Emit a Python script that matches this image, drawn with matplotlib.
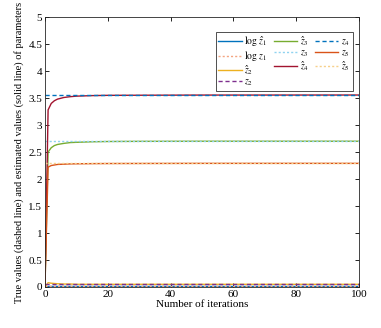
"""
Parameter estimates vs. true values over iterations
"""
import numpy as np
import matplotlib
matplotlib.use("Agg")
import matplotlib.pyplot as plt

#------------------------------------------------------------------------------
# Data
#------------------------------------------------------------------------------

iters = [0, 1, 2, 3, 4, 6, 8, 10, 15, 20, 30, 50, 100]

est_logz1 = [0, 0.01, 0.01, 0.01, 0.01, 0.01, 0.01, 0.01, 0.01, 0.01, 0.01, 0.01, 0.01]
est_z2 = [0, 0.08, 0.07, 0.065, 0.06, 0.055, 0.055, 0.05, 0.05, 0.05, 0.05, 0.05, 0.05]
est_z3 = [0, 2.50, 2.58, 2.62, 2.64, 2.66, 2.675, 2.68, 2.69, 2.695, 2.698, 2.70, 2.70]
est_z4 = [0, 3.28, 3.40, 3.45, 3.48, 3.51, 3.525, 3.535, 3.545, 3.55, 3.552, 3.555, 3.556]
est_z5 = [0, 2.22, 2.25, 2.26, 2.27, 2.275, 2.28, 2.282, 2.285, 2.287, 2.288, 2.29, 2.29]

true_logz1 = 0.01
true_z2 = 0.05
true_z3 = 2.70
true_z4 = 3.56
true_z5 = 2.29

#------------------------------------------------------------------------------
# Plot
#------------------------------------------------------------------------------

plt.rcParams['font.family'] = ['Liberation Serif', 'DejaVu Serif']
plt.rcParams['mathtext.fontset'] = 'stix'
plt.rcParams['font.size'] = 8

fig = plt.figure(figsize=(3.81, 3.28), dpi=100)
ax = fig.add_axes([0.118, 0.125, 0.824, 0.823])

x_end = [iters[0], iters[-1]]

ax.plot(iters, est_logz1, color='#0072BD', lw=1.0, label=r'$\log\,\hat{z}_1$')
ax.plot(x_end, [true_logz1] * 2, color='#F4A582', lw=1.0, ls=(0, (1.5, 1.5)), label=r'$\log\,z_1$')
ax.plot(iters, est_z2, color='#EDB120', lw=1.0, label=r'$\hat{z}_2$')
ax.plot(x_end, [true_z2] * 2, color='#7E2F8E', lw=1.0, ls=(0, (3, 2)), label=r'$z_2$')
ax.plot(iters, est_z3, color='#77AC30', lw=1.0, label=r'$\hat{z}_3$')
ax.plot(x_end, [true_z3] * 2, color='#8FD3F0', lw=1.0, ls=(0, (1.5, 1.5)), label=r'$z_3$')
ax.plot(iters, est_z4, color='#A2142F', lw=1.0, label=r'$\hat{z}_4$')
ax.plot(x_end, [true_z4] * 2, color='#0072BD', lw=1.0, ls=(0, (3, 2)), label=r'$z_4$')
ax.plot(iters, est_z5, color='#D95319', lw=1.0, label=r'$z_5$')
ax.plot(x_end, [true_z5] * 2, color='#F7D08A', lw=1.0, ls=(0, (1.5, 1.5)), label=r'$\hat{z}_5$')

ax.set_xlim(0, 100)
ax.set_ylim(0, 5)
ax.set_xticks(np.arange(0, 101, 20))
ax.set_yticks(np.arange(0, 5.01, 0.5))
ax.set_yticklabels(['0', '0.5', '1', '1.5', '2', '2.5', '3', '3.5', '4', '4.5', '5'])
ax.tick_params(direction='in', top=True, right=True, length=3, width=0.6, labelsize=8, pad=2)
for s in ax.spines.values():
    s.set_linewidth(0.6)
    s.set_color('#262626')

ax.set_xlabel('Number of iterations', fontsize=8, labelpad=1)
ax.set_ylabel('True values (dashed line) and estimated values (solid line) of parameters',
              fontsize=7.5, labelpad=3)

leg = ax.legend(ncol=3, loc='upper right', bbox_to_anchor=(0.98, 0.945), fontsize=7,
                frameon=True, fancybox=False, edgecolor='black', handlelength=2.4,
                handletextpad=0.3, columnspacing=0.6, labelspacing=0.05, borderpad=0.25,
                borderaxespad=0)
leg.get_frame().set_linewidth(0.6)

fig.savefig('out.png', dpi=100)
